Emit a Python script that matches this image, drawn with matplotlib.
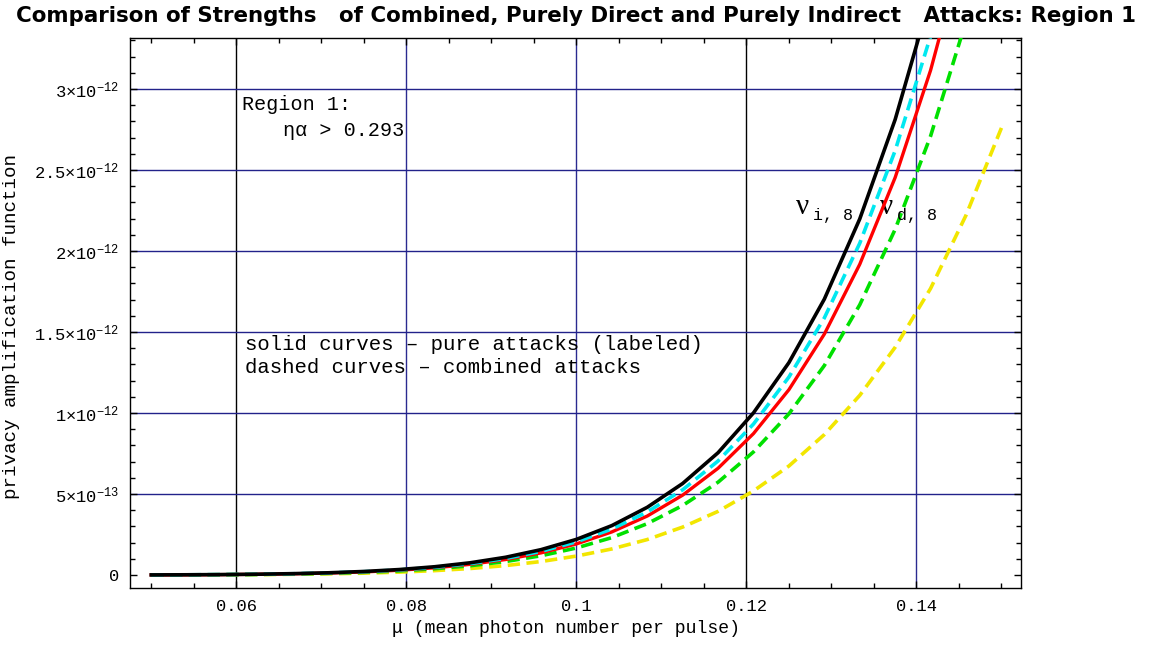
import matplotlib
matplotlib.use("Agg")
import matplotlib.pyplot as plt
from matplotlib.ticker import MultipleLocator

plt.rcParams['font.family'] = ['Liberation Mono', 'DejaVu Sans']
plt.rcParams['mathtext.fontset'] = 'custom'
plt.rcParams['mathtext.rm'] = 'Liberation Mono'
plt.rcParams['mathtext.it'] = 'Liberation Mono'

# ==============================
# Datos
# ==============================

mu = [0.05, 0.054167, 0.058333, 0.0625, 0.066667, 0.070833, 0.075, 0.079167,
      0.083333, 0.0875, 0.091667, 0.095833, 0.1, 0.104167, 0.108333, 0.1125,
      0.116667, 0.120833, 0.125, 0.129167, 0.133333, 0.1375, 0.141667,
      0.145833, 0.15]

# valores en unidades de 1e-12
nu_i8 = [0.0009, 0.0016, 0.0029, 0.0051, 0.0086, 0.0139, 0.0220, 0.0339,
         0.0512, 0.0756, 0.1096, 0.1566, 0.220, 0.305, 0.418, 0.565, 0.755,
         1.001, 1.311, 1.703, 2.198, 2.812, 3.571, 4.50, 5.64]
nu_d8 = [0.00075, 0.0014, 0.0026, 0.0045, 0.0075, 0.0122, 0.0192, 0.0296,
         0.0447, 0.0660, 0.0957, 0.1366, 0.192, 0.266, 0.364, 0.493, 0.659,
         0.873, 1.144, 1.487, 1.918, 2.454, 3.116, 3.930, 4.921]
comb_cyan = [0.0008, 0.0015, 0.0027, 0.0048, 0.0080, 0.0130, 0.0205, 0.0316,
             0.0477, 0.0704, 0.1022, 0.1459, 0.205, 0.284, 0.389, 0.526,
             0.704, 0.932, 1.222, 1.587, 2.048, 2.620, 3.327, 4.196, 5.254]
comb_green = [0.00065, 0.0012, 0.0022, 0.0039, 0.0065, 0.0106, 0.0167,
              0.0258, 0.0388, 0.0574, 0.0832, 0.1188, 0.167, 0.231, 0.317,
              0.429, 0.573, 0.760, 0.995, 1.293, 1.668, 2.134, 2.710, 3.418,
              4.280]
comb_yellow = [0.00046, 0.0009, 0.0016, 0.0027, 0.0046, 0.0074, 0.0117,
               0.0180, 0.0272, 0.0402, 0.0583, 0.0833, 0.117, 0.161, 0.219,
               0.296, 0.393, 0.519, 0.673, 0.867, 1.109, 1.406, 1.769, 2.221,
               2.76]

x_ticks = [0.06, 0.08, 0.1, 0.12, 0.14]
x_labels = ["0.06", "0.08", "0.1", "0.12", "0.14"]
y_ticks = [0, 0.5, 1.0, 1.5, 2.0, 2.5, 3.0]
y_labels = ["0", r"$5{\times}10^{-13}$", r"$1{\times}10^{-12}$",
            r"$1.5{\times}10^{-12}$", r"$2{\times}10^{-12}$",
            r"$2.5{\times}10^{-12}$", r"$3{\times}10^{-12}$"]

escala = 1e-12

# ==============================
# Grafico
# ==============================

fig = plt.figure(figsize=(11.52, 6.45), dpi=100)
ax = fig.add_axes([130 / 1152, 57 / 645, 891 / 1152, 550 / 645])

# rejilla
for xv in x_ticks:
    color = "black" if xv in (0.06, 0.12) else "#2a2a90"
    ax.axvline(xv, color=color, lw=1.0, zorder=1)
for yv in y_ticks[1:]:
    ax.axhline(yv * escala, color="#22228a", lw=1.0, zorder=1)

y = lambda vals: [v * escala for v in vals]

guiones = (0, (3.4, 1.8))
ax.plot(mu, y(comb_yellow), color="#f2e600", lw=2.6, ls=guiones, zorder=3)
ax.plot(mu, y(comb_green), color="#00e000", lw=2.6, ls=guiones, zorder=3)
ax.plot(mu, y(nu_d8), color="red", lw=2.4, zorder=4)
ax.plot(mu, y(comb_cyan), color="#00e8f0", lw=2.6, ls=guiones, zorder=5)
ax.plot(mu, y(nu_i8), color="black", lw=2.6, zorder=6)

ax.set_xlim(0.0475, 0.1523)
ax.set_ylim(-0.08 * escala, 3.315 * escala)

ax.set_xticks(x_ticks)
ax.set_xticklabels(x_labels)
ax.set_yticks([v * escala for v in y_ticks])
ax.set_yticklabels(y_labels)
ax.xaxis.set_minor_locator(MultipleLocator(0.005))
ax.yaxis.set_minor_locator(MultipleLocator(0.1 * escala))
ax.tick_params(which="both", direction="in", top=True, right=True,
               labelsize=12.3, color="black")
ax.tick_params(which="major", length=5, width=1, pad=8)
ax.tick_params(which="minor", length=3.5, width=1)
for s in ax.spines.values():
    s.set_linewidth(1.0)

ax.set_xlabel("\u03bc (mean photon number per pulse)", fontsize=13.1, labelpad=4)
ax.set_ylabel("privacy amplification function", fontsize=13.8, labelpad=10)
ax.xaxis.label.set_x(0.4888)
ax.yaxis.label.set_y(0.4755)

fig.suptitle("Comparison of Strengths   of Combined, Purely Direct and Purely Indirect   Attacks: Region 1",
             x=0.5, y=0.99, fontsize=15.4, fontweight="bold",
             family=["DejaVu Sans"])

# textos
ax.text(0.06071, 2.907 * escala, "Region 1:", fontsize=14.5, va="center")
ax.text(0.06553, 2.741 * escala, "\u03b7\u03b1 > 0.293", fontsize=14.5, va="center")
ax.text(0.06106, 1.426 * escala, "solid curves \u2013 pure attacks (labeled)",
        fontsize=14.9, va="center")
ax.text(0.06106, 1.284 * escala, "dashed curves \u2013 combined attacks",
        fontsize=14.9, va="center")

ax.text(0.1258, 2.27 * escala, "\u03bd", fontsize=21, va="center",
        family=["Liberation Serif", "DejaVu Serif"])
ax.text(0.12778, 2.22 * escala, "i, 8", fontsize=12, va="center")
ax.text(0.1357, 2.27 * escala, "\u03bd", fontsize=21, va="center",
        family=["Liberation Serif", "DejaVu Serif"])
ax.text(0.13776, 2.22 * escala, "d, 8", fontsize=12, va="center")

fig.savefig("out.png", dpi=100)
